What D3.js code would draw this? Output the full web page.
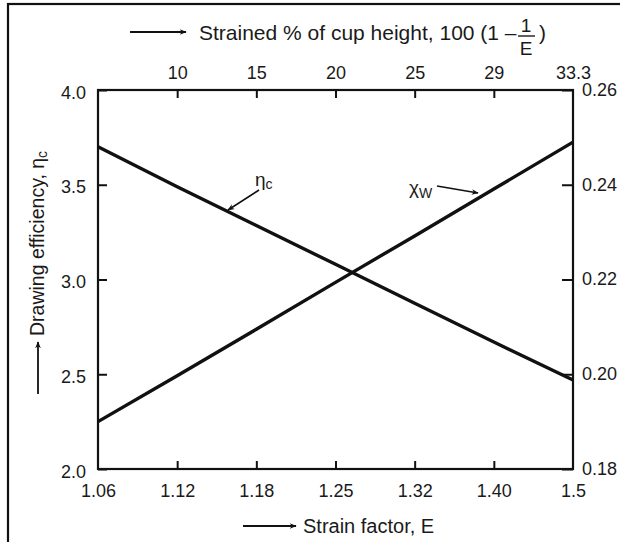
<!DOCTYPE html>
<html>
<head>
<meta charset="utf-8">
<script src="https://cdn.jsdelivr.net/npm/d3@7"></script>
<style>
  html, body { margin: 0; padding: 0; background: #fff; }
  svg { display: block; }
  text { font-family: "Liberation Sans", Arial, Helvetica, sans-serif; fill: #1a1a1a; }
</style>
</head>
<body>
<svg id="chart" width="620" height="542"></svg>
<script>
// Strain factor E (bottom axis) and strained % of cup height (top axis), equally spaced
const strainFactorLabels = ["1.06", "1.12", "1.18", "1.25", "1.32", "1.40", "1.5"];
const strainPercentLabels = ["", "10", "15", "20", "25", "29", "33.3"];

// Drawing efficiency (left axis) and chi_w (right axis) at each strain step
const etaC = [3.70, 3.49, 3.285, 3.08, 2.875, 2.67, 2.47];
const chiW = [0.190, 0.1997, 0.2095, 0.2194, 0.2292, 0.2391, 0.249];

const leftTicks = [2.0, 2.5, 3.0, 3.5, 4.0];
const rightTicks = [0.18, 0.20, 0.22, 0.24, 0.26];

const svg = d3.select("#chart");
const plot = { left: 98, right: 573, top: 90, bottom: 469 };

const idx = d3.range(strainFactorLabels.length);
const x = d3.scaleLinear().domain([0, strainFactorLabels.length - 1]).range([plot.left, plot.right]);
const yL = d3.scaleLinear().domain([2.0, 4.0]).range([plot.bottom, plot.top]);
const yR = d3.scaleLinear().domain([0.18, 0.26]).range([plot.bottom, plot.top]);

// outer frame
svg.append("rect")
  .attr("x", 8).attr("y", 4).attr("width", 640).attr("height", 560)
  .attr("fill", "none").attr("stroke", "#111").attr("stroke-width", 2.2);

// arrow head marker
const defs = svg.append("defs");
defs.append("marker")
  .attr("id", "head").attr("viewBox", "0 0 10 10")
  .attr("refX", 9).attr("refY", 5)
  .attr("markerWidth", 10).attr("markerHeight", 7)
  .attr("markerUnits", "userSpaceOnUse")
  .attr("orient", "auto")
  .append("path").attr("d", "M0,1 L10,5 L0,9 L3,5 Z").attr("fill", "#111");

function styleAxis(g) {
  g.select(".domain").remove();
  g.selectAll(".tick line").attr("stroke", "#111").attr("stroke-width", 2);
  g.selectAll(".tick text").style("font-size", "18px").attr("fill", "#1a1a1a");
}

// bottom axis
svg.append("g").attr("transform", `translate(0,${plot.bottom})`)
  .call(d3.axisBottom(x).tickValues(idx).tickSize(-8).tickPadding(15)
        .tickFormat(i => strainFactorLabels[i]))
  .call(styleAxis)
  .call(g => g.selectAll(".tick").filter(i => i === 0 || i === idx.length - 1).select("line").remove());

// top axis
svg.append("g").attr("transform", `translate(0,${plot.top})`)
  .call(d3.axisTop(x).tickValues(idx.slice(1)).tickSize(-8).tickPadding(11)
        .tickFormat(i => strainPercentLabels[i]))
  .call(styleAxis)
  .call(g => g.selectAll(".tick").filter(i => i === idx.length - 1).select("line").remove());

// left axis
svg.append("g").attr("transform", `translate(${plot.left},0)`)
  .call(d3.axisLeft(yL).tickValues(leftTicks).tickSize(-9).tickPadding(12)
        .tickFormat(d3.format(".1f")))
  .call(styleAxis)
  .call(g => g.selectAll(".tick text").attr("dy", "0.45em"));

// right axis
svg.append("g").attr("transform", `translate(${plot.right},0)`)
  .call(d3.axisRight(yR).tickValues(rightTicks).tickSize(-11).tickPadding(9)
        .tickFormat(d3.format(".2f")))
  .call(styleAxis)
  .call(g => g.selectAll(".tick text").attr("dy", "0.3em"));

// plot frame
svg.append("rect")
  .attr("x", plot.left).attr("y", plot.top)
  .attr("width", plot.right - plot.left).attr("height", plot.bottom - plot.top)
  .attr("fill", "none").attr("stroke", "#111").attr("stroke-width", 2.2);

// curves
svg.append("path")
  .datum(idx)
  .attr("d", d3.line().x(i => x(i)).y(i => yL(etaC[i])))
  .attr("fill", "none").attr("stroke", "#111").attr("stroke-width", 3.4)
  .attr("stroke-linejoin", "round");

svg.append("path")
  .datum(idx)
  .attr("d", d3.line().x(i => x(i)).y(i => yR(chiW[i])))
  .attr("fill", "none").attr("stroke", "#111").attr("stroke-width", 3.4)
  .attr("stroke-linejoin", "round");

// curve annotations
const etaLabel = svg.append("text").attr("x", 255).attr("y", 186).style("font-size", "19px");
etaLabel.append("tspan").text("η");
etaLabel.append("tspan").attr("dy", 3).style("font-size", "14px").text("c");
svg.append("line")
  .attr("x1", 259).attr("y1", 190).attr("x2", 228).attr("y2", 210)
  .attr("stroke", "#111").attr("stroke-width", 1.6).attr("marker-end", "url(#head)");

const chiLabel = svg.append("text").attr("x", 409).attr("y", 194).style("font-size", "19px");
chiLabel.append("tspan").text("χ");
chiLabel.append("tspan").attr("dy", 4).style("font-size", "14px").text("W");
svg.append("line")
  .attr("x1", 437).attr("y1", 186).attr("x2", 478).attr("y2", 193)
  .attr("stroke", "#111").attr("stroke-width", 1.6).attr("marker-end", "url(#head)");

// top axis title with fraction
svg.append("line")
  .attr("x1", 130).attr("y1", 32).attr("x2", 186).attr("y2", 32)
  .attr("stroke", "#111").attr("stroke-width", 1.8).attr("marker-end", "url(#head)");
svg.append("text").attr("x", 199).attr("y", 40).style("font-size", "21px")
  .text("Strained % of cup height, 100 (1 \u2013");
svg.append("text").attr("x", 526).attr("y", 32).attr("text-anchor", "middle").style("font-size", "19px").text("1");
svg.append("line").attr("x1", 518).attr("y1", 36).attr("x2", 535).attr("y2", 36)
  .attr("stroke", "#1a1a1a").attr("stroke-width", 1.4);
svg.append("text").attr("x", 526).attr("y", 55).attr("text-anchor", "middle").style("font-size", "19px").text("E");
svg.append("text").attr("x", 539).attr("y", 40).style("font-size", "21px").text(")");

// bottom axis title
svg.append("line")
  .attr("x1", 243).attr("y1", 526).attr("x2", 296).attr("y2", 526)
  .attr("stroke", "#111").attr("stroke-width", 1.8).attr("marker-end", "url(#head)");
svg.append("text").attr("x", 303).attr("y", 533).style("font-size", "20px").text("Strain factor, E");

// left axis title
svg.append("line")
  .attr("x1", 38).attr("y1", 394).attr("x2", 38).attr("y2", 342)
  .attr("stroke", "#111").attr("stroke-width", 1.8).attr("marker-end", "url(#head)");
const yTitle = svg.append("text")
  .attr("transform", "translate(44,336) rotate(-90)")
  .style("font-size", "19.5px");
yTitle.append("tspan").text("Drawing efficiency, η");
yTitle.append("tspan").attr("dy", 3).style("font-size", "14px").text("c");
</script>
</body>
</html>
